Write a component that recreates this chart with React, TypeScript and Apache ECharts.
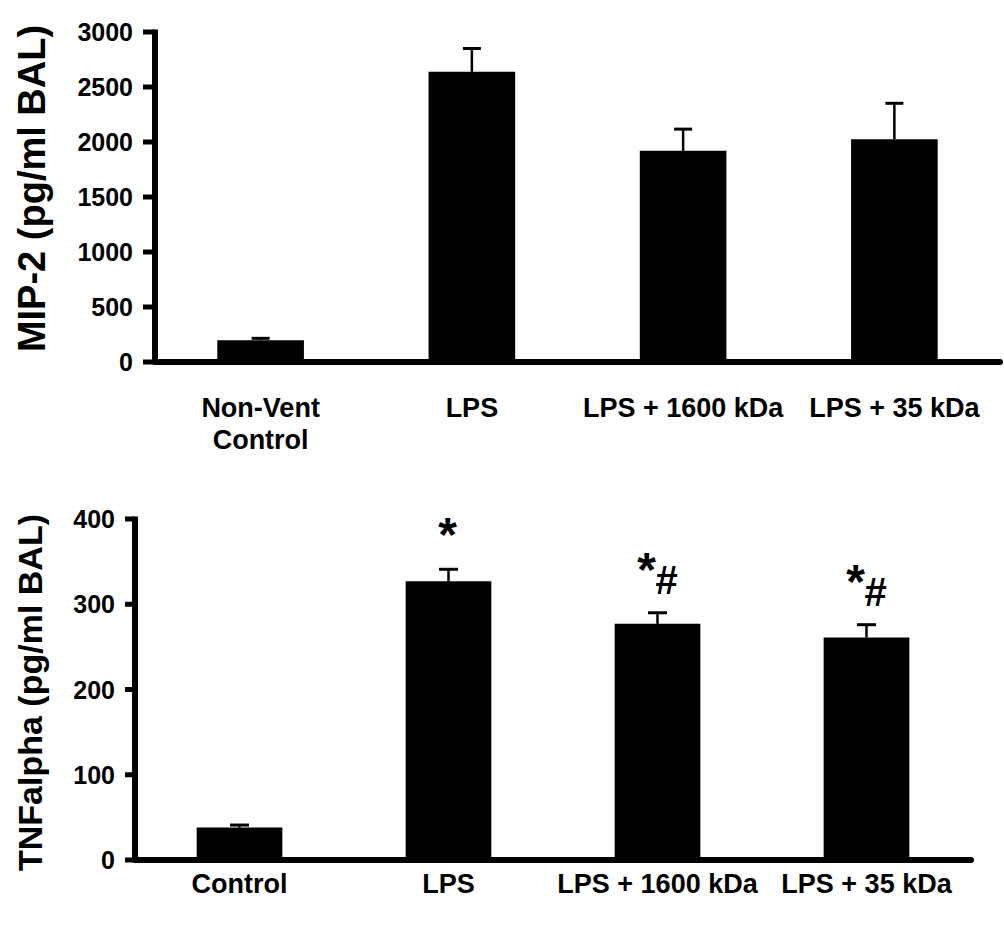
import React, { useEffect, useRef } from "react";
import * as echarts from "echarts";

// ---- Data ----
const mipCategories = ["Non-Vent\nControl", "LPS", "LPS + 1600 kDa", "LPS + 35 kDa"];
const mipMean = [198, 2638, 1920, 2026];
const mipErr = [17, 212, 197, 326];
const mipTickValues = [0, 500, 1000, 1500, 2000, 2500, 3000];

const tnfCategories = ["Control", "LPS", "LPS + 1600 kDa", "LPS + 35 kDa"];
const tnfMean = [38, 327, 277, 261];
const tnfErr = [3, 14, 13, 15];
const tnfStar = ["", "*", "*", "*"];
const tnfHash = ["", "", "#", "#"];
const tnfTickValues = [0, 100, 200, 300, 400];

const FONT = "'Liberation Sans', Arial, Helvetica, sans-serif";

function errorSeries(
  idx: number,
  means: number[],
  errs: number[],
  stars: string[] | null,
  hashes: string[] | null,
  capHalf: number
) {
  return {
    type: "custom",
    xAxisIndex: idx,
    yAxisIndex: idx,
    z: 5,
    silent: true,
    clip: false,
    data: means.map((m, i) => [i, m + errs[i], m]),
    renderItem: (params: any, api: any) => {
      const i = api.value(0);
      const top = api.coord([i, api.value(1)]);
      const base = api.coord([i, api.value(2)]);
      const children: any[] = [
        {
          type: "line",
          shape: { x1: top[0], y1: base[1], x2: top[0], y2: top[1] },
          style: { stroke: "#000", lineWidth: 2.5 },
        },
        {
          type: "line",
          shape: { x1: top[0] - capHalf, y1: top[1], x2: top[0] + capHalf, y2: top[1] },
          style: { stroke: "#000", lineWidth: 3 },
        },
      ];
      const star = stars ? stars[i] : "";
      const hash = hashes ? hashes[i] : "";
      if (star) {
        const withHash = !!hash;
        children.push({
          type: "text",
          x: top[0] + (withHash ? -11 : -1),
          y: top[1] + (withHash ? -54 : -46) + 11,
          style: {
            text: star,
            fill: "#000",
            font: `bold 48px ${FONT}`,
            align: "center",
            verticalAlign: "middle",
          },
        });
      }
      if (hash) {
        children.push({
          type: "text",
          x: top[0] + 9,
          y: top[1] - 33,
          style: {
            text: hash,
            fill: "#000",
            font: `bold 40px ${FONT}`,
            align: "center",
            verticalAlign: "middle",
          },
        });
      }
      return { type: "group", children };
    },
  };
}

// y axis line + outward ticks, placed through the axis scale
function yAxisDrawSeries(idx: number, ticks: number[], tickLen: number, lineW: number) {
  const maxV = Math.max(...ticks);
  const minV = Math.min(...ticks);
  return {
    type: "custom",
    xAxisIndex: idx,
    yAxisIndex: idx,
    z: 6,
    silent: true,
    clip: false,
    data: ticks.map((v) => [0, v]),
    renderItem: (params: any, api: any) => {
      const x0 = params.coordSys.x;
      const y = api.coord([0, api.value(1)])[1];
      const children: any[] = [
        {
          type: "rect",
          shape: { x: x0 - tickLen, y: y - 2.5, width: tickLen, height: 5 },
          style: { fill: "#000" },
        },
      ];
      if (params.dataIndex === 0) {
        const yTop = api.coord([0, maxV])[1];
        const yBot = api.coord([0, minV])[1];
        children.push({
          type: "rect",
          shape: { x: x0 - lineW / 2, y: yTop - 2.5, width: lineW, height: yBot - yTop + 2.5 },
          style: { fill: "#000" },
        });
      }
      return { type: "group", children };
    },
  };
}

export default function App() {
  const ref = useRef<HTMLDivElement>(null);

  useEffect(() => {
    if (!ref.current) return;
    const chart = echarts.init(ref.current, null, { renderer: "svg" });

    const yAxisCommon = (ticks: number[], labelMargin: number) => ({
      type: "value",
      min: ticks[0],
      max: ticks[ticks.length - 1],
      interval: ticks[1] - ticks[0],
      splitLine: { show: false },
      axisLine: { show: false },
      axisTick: { show: false },
      axisLabel: {
        color: "#000",
        fontSize: 25,
        fontWeight: "bold",
        fontFamily: FONT,
        margin: labelMargin,
        formatter: (v: number) => String(v),
      },
      nameLocation: "middle",
      nameRotate: 90,
    });

    const xAxisCommon = (margin: number) => ({
      type: "category",
      axisLine: { show: true, lineStyle: { color: "#000", width: 6 } },
      axisTick: { show: false },
      axisLabel: {
        interval: 0,
        color: "#000",
        fontSize: 27,
        fontWeight: "bold",
        fontFamily: FONT,
        lineHeight: 32,
        margin,
      },
    });

    chart.setOption({
      animation: false,
      backgroundColor: "#fff",
      grid: [
        { left: 155, top: 32, width: 845, height: 330 },
        { left: 135, top: 519, width: 836, height: 341 },
      ],
      xAxis: [
        { ...xAxisCommon(30), gridIndex: 0, data: mipCategories },
        { ...xAxisCommon(8), gridIndex: 1, data: tnfCategories },
      ],
      yAxis: [
        {
          ...yAxisCommon(mipTickValues, 22),
          gridIndex: 0,
          name: "MIP-2 (pg/ml BAL)",
          nameGap: 104,
          nameTextStyle: {
            color: "#000",
            fontSize: 38,
            fontWeight: "bold",
            fontFamily: FONT,
            padding: [0, 0, 0, 17],
          },
        },
        {
          ...yAxisCommon(tnfTickValues, 20),
          gridIndex: 1,
          name: "TNFalpha (pg/ml BAL)",
          nameGap: 88,
          nameTextStyle: {
            color: "#000",
            fontSize: 34,
            fontWeight: "bold",
            fontFamily: FONT,
            padding: [0, 6, 0, 0],
          },
        },
      ],
      series: [
        {
          type: "bar",
          xAxisIndex: 0,
          yAxisIndex: 0,
          data: mipMean,
          barWidth: "41%",
          itemStyle: { color: "#000" },
          z: 3,
        },
        errorSeries(0, mipMean, mipErr, null, null, 9),
        yAxisDrawSeries(0, mipTickValues, 12, 6),
        {
          type: "bar",
          xAxisIndex: 1,
          yAxisIndex: 1,
          data: tnfMean,
          barWidth: "41%",
          itemStyle: { color: "#000" },
          z: 3,
        },
        errorSeries(1, tnfMean, tnfErr, tnfStar, tnfHash, 9.5),
        yAxisDrawSeries(1, tnfTickValues, 10, 6),
      ],
    });

    return () => chart.dispose();
  }, []);

  return (
    <div
      ref={ref}
      style={{ position: "fixed", left: 0, top: 0, width: 1004, height: 939, background: "#fff" }}
    />
  );
}
